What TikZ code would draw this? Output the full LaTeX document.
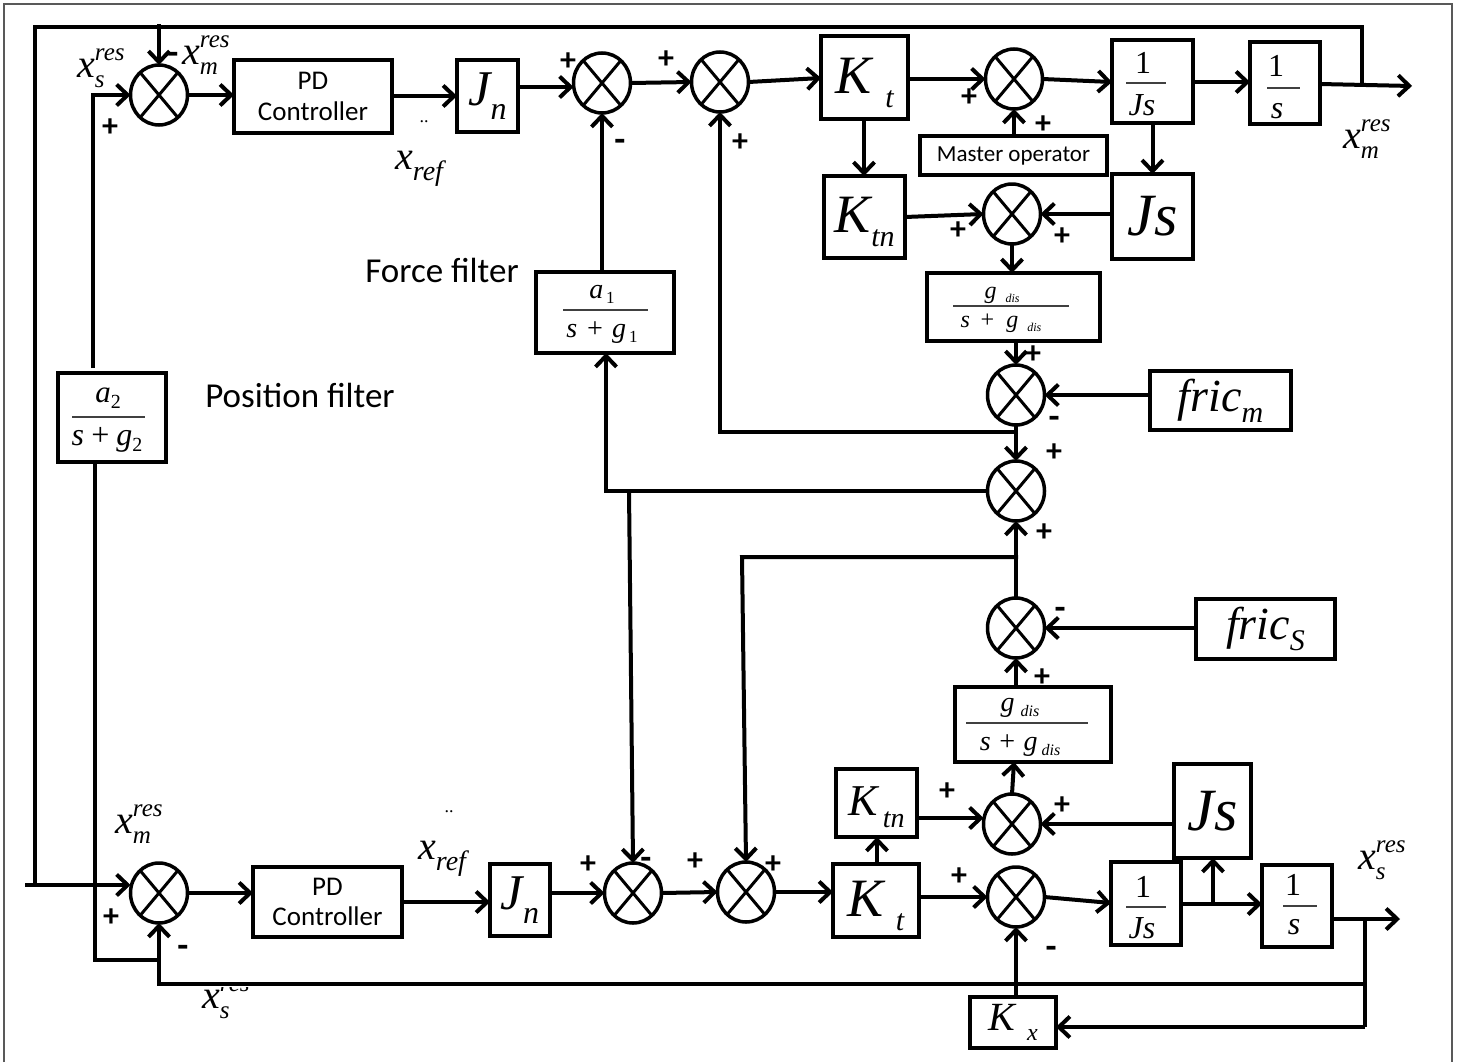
\documentclass[tikz,border=0pt]{standalone}
\usepackage{fontspec}
\setmainfont{Liberation Serif}
\newfontfamily\crl{Carlito}
\usetikzlibrary{arrows.meta,shapes.geometric,calc}
\newcommand\fs[1]{\fontsize{#1}{#1}\selectfont}
% x with superscript and subscript
\newcommand\xl[2]{\fs{40}\itshape x\rlap{\raisebox{17pt}{\fs{25}#1}}\raisebox{-10pt}{\fs{25}#2}}
\newcommand\xrf{\fs{40}\itshape x\raisebox{-11pt}{\fs{28}ref}}
\newcommand\kk[3]{\rule{0pt}{46pt}\fs{54}\itshape K\hspace{#2}\raisebox{-14pt}{\fs{#3}#1}}
\newcommand\bx[6]{\node[boxb,minimum width={(#4-#2)*1pt},minimum height={(#5-#3)*1pt}] (#1) at ({(#2+#4)/2},{(#3+#5)/2}) {#6};}
\newcommand\sj[3]{\node[sumj] (#1) at (#2,#3) {};\draw[thin line] (#1.50)--(#1.230) (#1.130)--(#1.310);}
\tikzset{
  thin line/.style={line width=3pt},
  boxb/.style={draw,line width=3.5pt,inner sep=0pt,outer sep=0pt,align=center},
  sumj/.style={draw,ellipse,line width=3.5pt,minimum width=57pt,minimum height=60pt,inner sep=0pt,outer sep=0pt},
  conn/.style={line width=4pt},
  arr/.style={line width=4pt,-{Straight Barb[length=11pt,width=21pt,line width=4pt]}},
  plus/.style={font=\crl\bfseries\fs{32},inner sep=0pt},
  minus/.style={font=\crl\bfseries\fs{36},inner sep=0pt,yshift=-5pt},
  lab/.style={inner sep=0pt,anchor=base west},
  word/.style={font=\crl\fs{35},inner sep=0pt},
  ftxt/.style={inner sep=0pt,font=\itshape\fs{28}},
  bar/.style={line width=1.2pt,black!75},
}
\begin{document}
\begin{tikzpicture}[x=1pt,y=-1pt]
\useasboundingbox (0,0) rectangle (1461,1063);
\draw[black!65,line width=2pt] (4,1062) -- (4,4) -- (1452,4) -- (1452,1062);
% boxes
\bx{PDa}{234}{60}{392}{133}{\crl\fs{27}PD\\[11pt]\crl\fs{27}Controller}
\bx{Jna}{457}{60}{518}{132}{\fs{50}\itshape J\raisebox{-14pt}{\fs{32}n}}
\bx{Kta}{821}{36}{908}{119}{\kk{t}{14pt}{30}}
\bx{Ja}{1112}{40}{1193}{123}{}
\bx{Sa}{1250}{42}{1320}{124}{}
\bx{Mast}{920}{136}{1107}{175}{\crl\fs{23}Master operator}
\bx{Ktna}{824}{176}{905}{258}{\kk{tn}{1pt}{30}}
\bx{Jsa}{1112}{174}{1193}{259}{\fs{60}\itshape Js}
\bx{Ga}{927}{273}{1100}{341}{}
\bx{Fm}{1150}{371}{1291}{430}{\fs{46}\itshape fric\raisebox{-11pt}{\fs{30}m}}
\bx{Aa}{536}{272}{674}{353}{}
\bx{Ab}{58}{373}{166}{462}{}
\bx{Fs}{1196}{599}{1335}{659}{\fs{46}\itshape fric\raisebox{-11pt}{\fs{30}S}}
\bx{Gb}{955}{687}{1111}{762}{}
\bx{Ktnb}{836}{769}{917}{837}{\rule{0pt}{38pt}\fs{44}\itshape K\hspace{5pt}\raisebox{-12pt}{\fs{28}tn}}
\bx{Jsb}{1174}{764}{1251}{858}{\fs{60}\itshape Js}
\bx{Ktb}{833}{864}{919}{937}{\kk{t}{12pt}{30}}
\bx{Jb}{1111}{862}{1181}{945}{}
\bx{Sb}{1262}{865}{1332}{947}{}
\bx{Kx}{970}{997}{1056}{1048}{\fs{40}\itshape K\hspace{12pt}\raisebox{-10pt}{\fs{24}x}}
\bx{PDb}{253}{867}{402}{937}{\crl\fs{27}PD\\[11pt]\crl\fs{27}Controller}
\bx{Jnb}{490}{864}{550}{936}{\fs{50}\itshape J\raisebox{-14pt}{\fs{32}n}}
% summing junctions
\sj{Sone}{159}{95}
\sj{Stwo}{602}{83}
\sj{Sthr}{720}{82}
\sj{Sfou}{1014}{79}
\sj{Sfiv}{1012}{214}
\sj{Ssix}{1016}{395}
\sj{Ssev}{1016}{491}
\sj{Seig}{1016}{628}
\sj{Snin}{1012}{824}
\sj{Sten}{1016}{897}
\sj{Sele}{159}{893}
\sj{Stwe}{633}{893}
\sj{Sthi}{746}{892}
% fractions
\draw[bar] (72,417)--(145,417);
\node[ftxt,font=\itshape\fs{31}] (fa2n) at (108,398) {a\raisebox{-6pt}{\upshape\fs{20}2}};
\node[ftxt,font=\itshape\fs{32}] (fa2d) at (107,440) {s\,+\,g\raisebox{-6pt}{\upshape\fs{20}2}};
\draw[bar] (563,310)--(648,310);
\node[ftxt,font=\itshape\fs{28}] (fa1n) at (602,294) {a\raisebox{-5pt}{\upshape\fs{17}\,1}};
\node[ftxt,font=\itshape\fs{28}] (fa1d) at (602,333) {s\hspace{8pt}+\hspace{8pt}g\raisebox{-5pt}{\upshape\fs{17}\,1}};
\draw[bar] (953,306)--(1069,306);
\node[ftxt,font=\itshape\fs{24}] (fg1n) at (1002,295) {g\hspace{9pt}\raisebox{-4pt}{\fs{12}dis}};
\node[ftxt,font=\itshape\fs{24}] (fg1d) at (1001,323) {s\hspace{9pt}+\hspace{11pt}g\hspace{9pt}\raisebox{-4pt}{\fs{12}dis}};
\draw[bar] (966,723)--(1088,723);
\node[ftxt] (fg2n) at (1020,708) {g\hspace{6pt}\raisebox{-5pt}{\fs{16}dis}};
\node[ftxt] (fg2d) at (1020,746) {s\hspace{7pt}+\hspace{7pt}g\hspace{4pt}\raisebox{-5pt}{\fs{16}dis}};
\draw[bar] (1126,83)--(1166,83);
\node[inner sep=0pt,font=\fs{32}] (f1an) at (1143,63) {1};
\node[ftxt,font=\itshape\fs{32}] (f1ad) at (1142,105) {Js};
\draw[bar] (1267,88)--(1300,88);
\node[inner sep=0pt,font=\fs{32}] (f2an) at (1276,66) {1};
\node[ftxt,font=\itshape\fs{32}] (f2ad) at (1277,111) {s};
\draw[bar] (1126,907)--(1166,907);
\node[inner sep=0pt,font=\fs{32}] (f1bn) at (1143,887) {1};
\node[ftxt,font=\itshape\fs{32}] (f1bd) at (1142,928) {Js};
\draw[bar] (1283,906)--(1317,906);
\node[inner sep=0pt,font=\fs{32}] (f2bn) at (1293,885) {1};
\node[ftxt,font=\itshape\fs{32}] (f2bd) at (1294,927) {s};
% connector helper coordinates
\coordinate (topL) at (35,27);
\coordinate (topR) at (1362,27);
\coordinate (inL) at (25,885);
\coordinate (outT) at (1412,86);
\coordinate (outB) at (1400,919);
\coordinate (tapT) at (1362,84);
\coordinate (tapB) at (1365,917);
\coordinate (fbB) at (1365,1027);
\coordinate (fbM) at (1365,984);
\coordinate (fbL) at (159,984);
\coordinate (pA) at (95,960);
\coordinate (pB) at (159,960);
\coordinate (topS) at (159,24);
\coordinate (kL) at (720,432);
\coordinate (kR) at (1018,432);
\coordinate (fL) at (606,491);
\coordinate (fD) at (629,491);
\coordinate (dR) at (1018,557);
\coordinate (dL) at (742,557);
\coordinate (jT) at (1213,904);
\coordinate (aT) at (93,368);
% top loop
\draw[conn] (tapT) -- (topR) -- (topL) -- (inL -| topL);
\draw[arr] (topS) -- (Sone.north);
\draw[arr] (aT) -- (93,95) -- (Sone.west);
\draw[arr] (Sone.east) -- (Sone.east -| PDa.west);
\draw[arr] (PDa.east |- 0,96) -- (Jna.west |- 0,96);
\draw[arr] (Jna.east |- 0,87) -- (Stwo.west |- 0,87);
\draw[arr] (Stwo.east) -- (Sthr.west);
\draw[arr] (Sthr.east) -- (Kta.west |- 0,78);
\draw[arr] (Kta.east |- Sfou.west) -- (Sfou.west);
\draw[arr] (Sfou.east) -- (Ja.west |- 0,82);
\draw[arr] (Ja.east |- 0,82) -- (Sa.west |- 0,82);
\draw[arr] (Sa.east |- 0,84) -- (outT);
\draw[arr] (Mast.north -| Sfou.south) -- (Sfou.south);
\draw[arr] (Kta.south -| 864,0) -- (Ktna.north -| 864,0);
\draw[arr] (Ja.south) -- (Jsa.north);
\draw[arr] (Ktna.east |- 0,217) -- (Sfiv.west);
\draw[arr] (Jsa.west |- Sfiv.east) -- (Sfiv.east);
\draw[arr] (Sfiv.south) -- (Sfiv.south |- Ga.north);
\draw[arr] (Ga.south -| Ssix.north) -- (Ssix.north);
\draw[arr] (Fm.west |- Ssix.east) -- (Ssix.east);
\draw[arr] (Ssix.south) -- (Ssev.north);
\draw[arr] (kR) -- (kL) -- (Sthr.south -| kL);
\draw[arr] (Aa.north -| Stwo.south) -- (Stwo.south);
\draw[arr] (Ssev.west) -- (fL) -- (fL |- Aa.south);
\draw[arr] (fD) -- (Stwe.north);
\draw[arr] (Seig.north) -- (Ssev.south);
\draw[arr] (dR) -- (dL) -- (Sthi.north);
% bottom row
\draw[arr] (inL) -- (Sele.west |- inL);
\draw[conn] (Ab.south -| pA) -- (pA) -- (pB);
\draw[arr] (Sele.east) -- (PDb.west |- Sele.east);
\draw[arr] (PDb.east) -- (Jnb.west |- PDb.east);
\draw[arr] (Jnb.east |- Stwe.west) -- (Stwe.west);
\draw[arr] (Stwe.east) -- (Sthi.west);
\draw[arr] (Sthi.east) -- (Ktb.west |- Sthi.east);
\draw[arr] (Ktb.east |- Sten.west) -- (Sten.west);
\draw[arr] (Ktb.north -| 877,0) -- (Ktnb.south -| 877,0);
\draw[arr] (Ktnb.east |- 0,818) -- (Snin.west |- 0,818);
\draw[arr] (Jsb.west |- Snin.east) -- (Snin.east);
\draw[arr] (Snin.north) -- (Gb.south -| 1014,0);
\draw[arr] (Gb.north -| Seig.south) -- (Seig.south);
\draw[arr] (Fs.west |- Seig.east) -- (Seig.east);
\draw[arr] (Sten.east) -- (Jb.west |- 0,903);
\draw[arr] (Jb.east |- jT) -- (Sb.west |- jT);
\draw[arr] (jT) -- (jT |- Jsb.south);
\draw[arr] (Sb.east |- outB) -- (outB);
\draw[conn] (tapB) -- (fbB);
\draw[arr] (fbB) -- (Kx.east |- fbB);
\draw[arr] (fbM) -- (fbL) -- (Sele.south);
\draw[arr] (Kx.north -| Sten.south) -- (Sten.south);
% texts
\node[lab] (lxsa) at (77,77) {\xl{res}{s}};
\node[lab] (lxma) at (182,64) {\xl{res}{m}};
\node[lab] (lxmr) at (1343,148) {\xl{res}{m}};
\node[lab] (lxmb) at (115,833) {\xl{res}{m}};
\node[lab] (lxsr) at (1358,869) {\xl{res}{s}};
\begin{scope}
\clip (190,987) rectangle (260,1030);
\node[lab] (lxsb) at (202,1008) {\xl{res}{s}};
\end{scope}
\node[lab] (lrefa) at (395,169) {\xrf};
\node[lab] (lrefb) at (418,859) {\xrf};
\node[inner sep=0pt,font=\fs{18}] (dota) at (424,122) {..};
\node[inner sep=0pt,font=\fs{18}] (dotb) at (449,812) {..};
\node[word] (ff) at (442,270) {Force filter};
\node[word] (pf) at (300,395) {Position filter};
\foreach \n/\x/\y in {p1/110/128,p2/568/62,p3/666/60,p4/740/143,p5/969/98,p6/1043/125,p7/958/231,p8/1062/237,p9/1033/355,p10/1054/453,p11/1044/533,p12/1042/678,p13/947/792,p14/1062/806,p15/773/865,p16/959/877,p17/111/918,p18/588/865,p19/695/862}
  \node[plus] (\n) at (\x,\y) {+};
\foreach \n/\x/\y in {m1/173/53,m2/620/140,m3/1054/417,m4/1060/608,m5/1051/947,m6/183/946,m7/646/858}
  \node[minus] (\n) at (\x,\y) {-};
\end{tikzpicture}
\end{document}
